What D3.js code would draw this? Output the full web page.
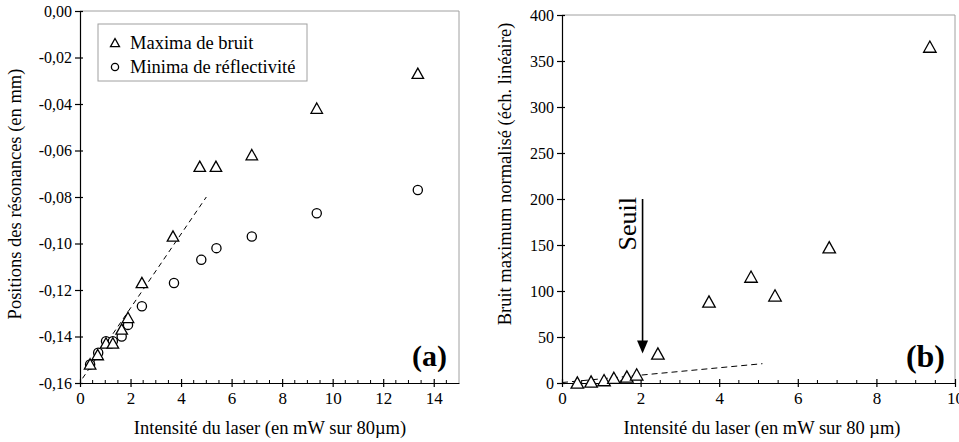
<!DOCTYPE html>
<html><head><meta charset="utf-8">
<script src="https://cdn.jsdelivr.net/npm/d3@7"></script>
<style>body{margin:0;background:#fff}svg{display:block}text{font-family:"Liberation Serif","Times New Roman",serif;fill:#000}</style>
</head><body>
<svg id="c" width="959" height="442"></svg>
<script>
// ---- Panel (a) data ----
const aMaxX = [0.4, 0.7, 1.03, 1.3, 1.65, 1.9, 2.45, 3.68, 4.74, 5.38, 6.8, 9.37, 13.37];
const aMaxY = [-0.152, -0.148, -0.143, -0.143, -0.137, -0.132, -0.117, -0.097, -0.067, -0.067, -0.062, -0.042, -0.027];
const aMinX = [0.4, 0.72, 1.03, 1.3, 1.65, 1.9, 2.45, 3.72, 4.8, 5.4, 6.8, 9.37, 13.37];
const aMinY = [-0.152, -0.147, -0.142, -0.142, -0.140, -0.135, -0.127, -0.117, -0.107, -0.102, -0.097, -0.087, -0.077];
const aFitX = [0.1, 5.0];
const aFitY = [-0.158, -0.080];
const aXTicks = [0, 2, 4, 6, 8, 10, 12, 14];
const aYTicks = [0, -0.02, -0.04, -0.06, -0.08, -0.10, -0.12, -0.14, -0.16];
const legendLabels = ["Maxima de bruit", "Minima de réflectivité"];

// ---- Panel (b) data ----
const bX = [0.39, 0.74, 1.07, 1.32, 1.65, 1.9, 2.44, 3.74, 4.81, 5.42, 6.8, 9.36];
const bY = [0, 1, 2.5, 5, 6.5, 8.7, 31.5, 88, 115, 94.6, 147, 365];
const bFitX = [0, 5.1];
const bFitY = [0.5, 21];
const bXTicks = [0, 2, 4, 6, 8, 10];
const bYTicks = [0, 50, 100, 150, 200, 250, 300, 350, 400];
const seuilX = 2.05, seuilTop = 200, seuilTip = 32;

const SERIF = '"Liberation Serif","Times New Roman",serif';
const svg = d3.select("#c");
const fr = d3.format(".2f");
const commaFmt = v => (Math.abs(v) < 1e-9 ? "0,00" : fr(v).replace(".", ",").replace("−", "-"));

function tri(g, cx, cy, s) {
  const h = s * 0.9;
  g.append("path")
    .attr("d", `M${cx},${cy - h * 0.55}L${cx + s / 2},${cy + h * 0.45}L${cx - s / 2},${cy + h * 0.45}Z`)
    .attr("fill", "#fff").attr("stroke", "#000").attr("stroke-width", 1.3);
}
function circ(g, cx, cy, r) {
  g.append("circle").attr("cx", cx).attr("cy", cy).attr("r", r)
    .attr("fill", "#fff").attr("stroke", "#000").attr("stroke-width", 1.3);
}

function panel(o) {
  const g = svg.append("g");
  const x = d3.scaleLinear().domain(o.xd).range([o.x0, o.x1]);
  const y = d3.scaleLinear().domain(o.yd).range([o.y1, o.y0]);
  g.append("path").attr("d", `M${o.x0},${o.y0}H${o.x1}V${o.y1}`).attr("fill", "none").attr("stroke", "#a0a0a0").attr("stroke-width", 1);
  g.selectAll(".mx").data(o.minor).enter().append("line")
    .attr("x1", d => x(d)).attr("x2", d => x(d)).attr("y1", o.y1 - 3).attr("y2", o.y1)
    .attr("stroke", "#000").attr("stroke-width", 1);
  const xa = g.append("g").attr("transform", `translate(0,${o.y1})`)
    .call(d3.axisBottom(x).tickValues(o.xt).tickSizeInner(4).tickSizeOuter(0).tickPadding(3).tickFormat(d3.format("d")))
    .attr("font-family", SERIF);
  xa.select(".domain").attr("stroke", "#000").attr("stroke-width", 1.2);
  xa.selectAll(".tick line").attr("y1", -4).attr("stroke-width", 1.2);
  xa.selectAll("text").attr("font-size", 17).attr("font-family", SERIF).attr("dy", "0.85em");
  const ya = g.append("g").attr("transform", `translate(${o.x0},0)`)
    .call(d3.axisLeft(y).tickValues(o.yt).tickSizeInner(5).tickSizeOuter(0).tickPadding(3).tickFormat(o.yf))
    .attr("font-family", SERIF);
  ya.select(".domain").attr("stroke", "#000").attr("stroke-width", 1.2);
  ya.selectAll(".tick line").attr("x1", 3).attr("stroke-width", 1.2);
  ya.selectAll("text").attr("font-size", 16).attr("font-family", SERIF);
  return {g, x, y};
}

// ---- Panel (a) ----
const A = panel({x0: 80, x1: 459, y0: 11, y1: 383, xd: [0, 15], yd: [-0.16, 0],
  xt: aXTicks, yt: aYTicks, minor: d3.range(0.5, 15, 0.5).filter(v => v % 2 !== 0), yf: commaFmt});
A.g.append("line").attr("x1", A.x(aFitX[0])).attr("y1", A.y(aFitY[0])).attr("x2", A.x(aFitX[1])).attr("y2", A.y(aFitY[1]))
  .attr("stroke", "#000").attr("stroke-width", 1).attr("stroke-dasharray", "5,4");
aMinX.forEach((v, i) => circ(A.g, A.x(v), A.y(aMinY[i]), 4.6));
aMaxX.forEach((v, i) => tri(A.g, A.x(v), A.y(aMaxY[i]), 11.5));
A.g.append("rect").attr("x", 98).attr("y", 24).attr("width", 209).attr("height", 57).attr("fill", "#fff").attr("stroke", "#a0a0a0");
tri(A.g, 115, 43, 9);
circ(A.g, 115, 67, 3.6);
legendLabels.forEach((t, i) => A.g.append("text").attr("x", 130).attr("y", 49 + i * 24).attr("font-size", 18.5).text(t));
A.g.append("text").attr("x", 447).attr("y", 366).attr("text-anchor", "end").attr("font-size", 30).attr("font-weight", "bold").text("(a)");
svg.append("text").attr("x", 270).attr("y", 434).attr("text-anchor", "middle").attr("font-size", 18.5).text("Intensité du laser (en mW sur 80µm)");
svg.append("text").attr("transform", "translate(21,194) rotate(-90)").attr("text-anchor", "middle").attr("font-size", 18.5).text("Positions des résonances (en mm)");

// ---- Panel (b) ----
const B = panel({x0: 562, x1: 955, y0: 15, y1: 383, xd: [0, 10], yd: [0, 400],
  xt: bXTicks, yt: bYTicks, minor: d3.range(0.5, 10, 0.5).filter(v => v % 2 !== 0), yf: d3.format("d")});
B.g.append("line").attr("x1", B.x(bFitX[0])).attr("y1", B.y(bFitY[0])).attr("x2", B.x(bFitX[1])).attr("y2", B.y(bFitY[1]))
  .attr("stroke", "#000").attr("stroke-width", 1).attr("stroke-dasharray", "6,4");
bX.forEach((v, i) => tri(B.g, B.x(v), B.y(bY[i]), 12.5));
const sx = B.x(seuilX);
B.g.append("line").attr("x1", sx).attr("x2", sx).attr("y1", B.y(seuilTop)).attr("y2", B.y(seuilTip) - 10).attr("stroke", "#000").attr("stroke-width", 1.6);
B.g.append("path").attr("d", `M${sx - 5.5},${B.y(seuilTip) - 13}L${sx + 5.5},${B.y(seuilTip) - 13}L${sx},${B.y(seuilTip)}Z`).attr("fill", "#000");
B.g.append("text").attr("transform", `translate(${sx - 7},${B.y(seuilTop) - 2}) rotate(-90)`).attr("text-anchor", "end").attr("font-size", 26).text("Seuil");
B.g.append("text").attr("x", 945).attr("y", 367).attr("text-anchor", "end").attr("font-size", 32).attr("font-weight", "bold").text("(b)");
svg.append("text").attr("x", 762).attr("y", 434).attr("text-anchor", "middle").attr("font-size", 18.5).text("Intensité du laser (en mW sur 80 µm)");
svg.append("text").attr("transform", "translate(511,174) rotate(-90)").attr("text-anchor", "middle").attr("font-size", 18.5).text("Bruit maximum normalisé (éch. linéaire)");
</script>
</body></html>
